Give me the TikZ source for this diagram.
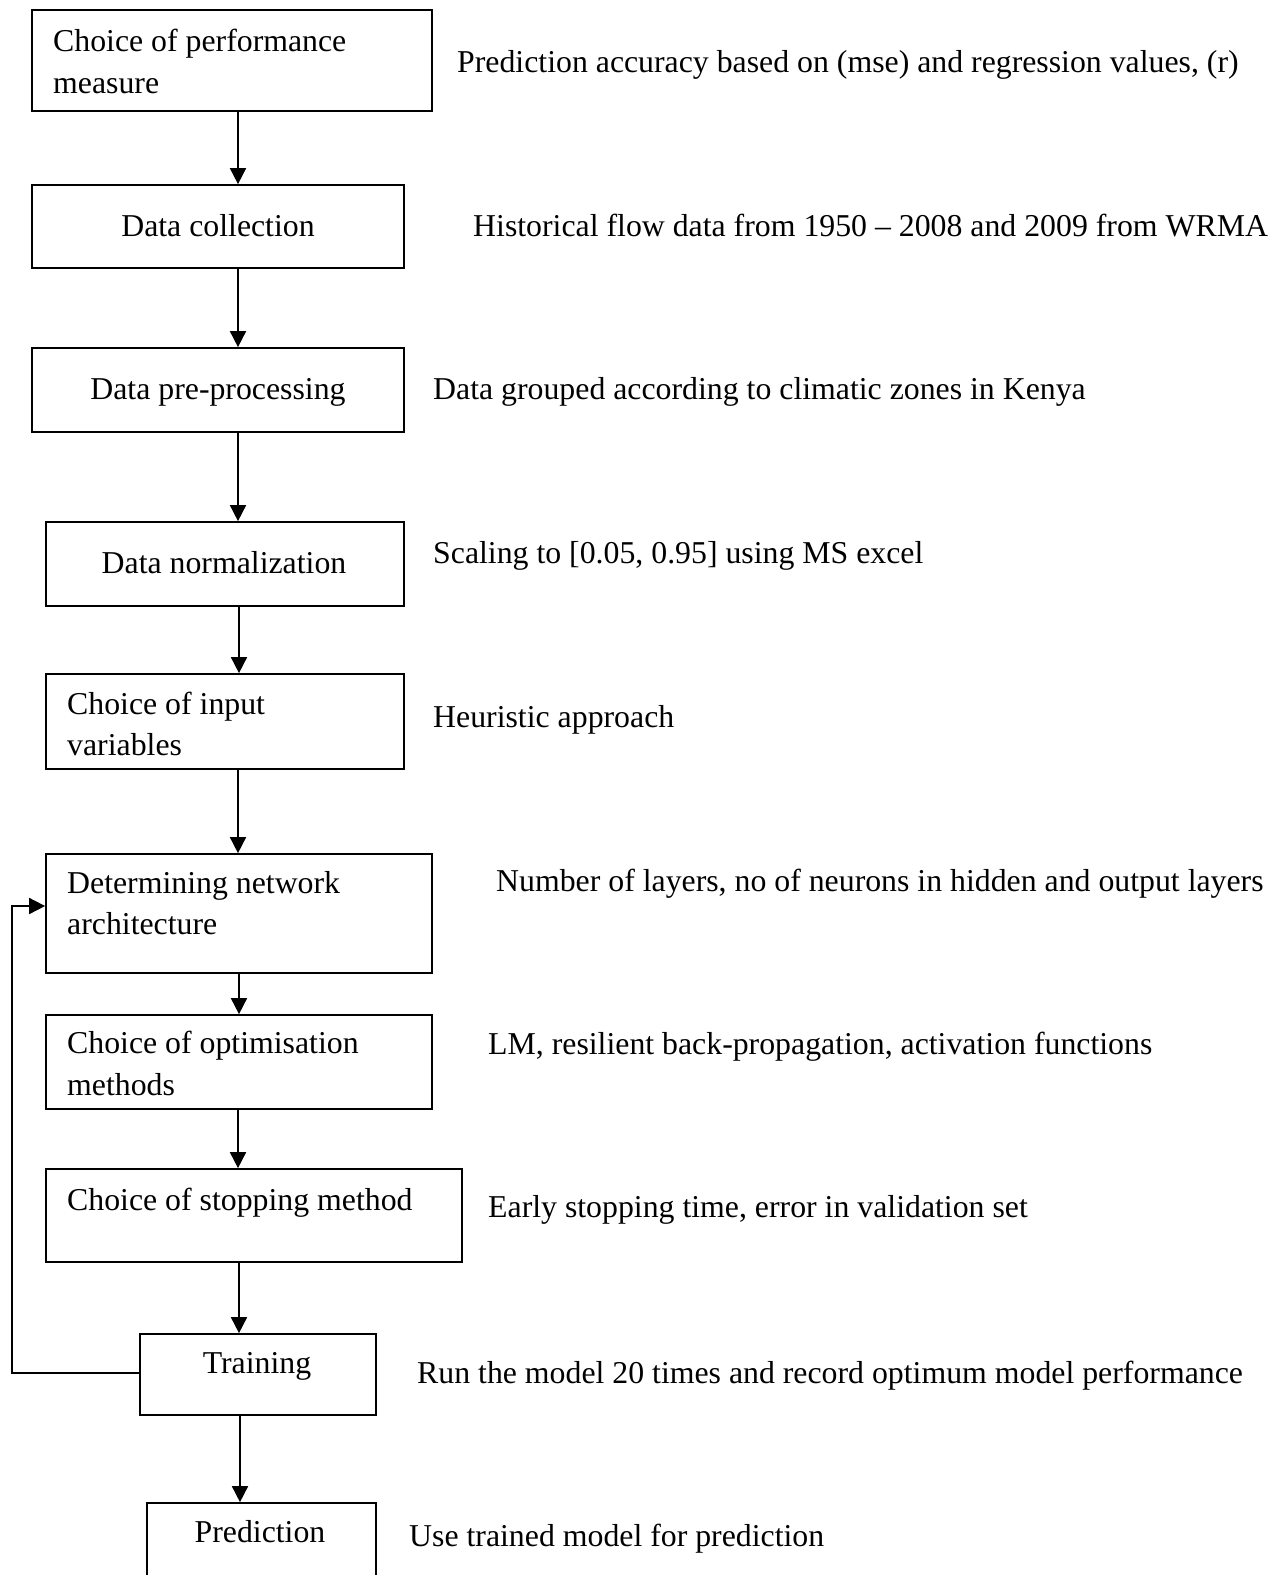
\documentclass[tikz,border=0pt]{standalone}
\usepackage{fontspec}
\setmainfont{Liberation Serif}
\usetikzlibrary{arrows.meta}
\begin{document}
\begin{tikzpicture}[x=1bp,y=-1bp,
  box/.style={draw=black, line width=1.7bp, rectangle, inner sep=0pt},
  txt/.style={inner sep=0pt, font=\fontsize{31.8bp}{42bp}\selectfont, anchor=base west},
  ctxt/.style={inner sep=0pt, font=\fontsize{31.8bp}{42bp}\selectfont, anchor=base},
  arr/.style={line width=1.7bp, -{Triangle[width=16bp,length=16bp]}}]
\clip (0,0) rectangle (1284,1575);
\fill[white] (0,0) rectangle (1284,1575);
% boxes (centre, width, height)
\node[box, minimum width=400bp, minimum height=101bp] (b1) at (232,60.5) {};
\node[box, minimum width=372bp, minimum height=83bp] (b2) at (218,226.5) {};
\node[box, minimum width=372bp, minimum height=84bp] (b3) at (218,390) {};
\node[box, minimum width=358bp, minimum height=84bp] (b4) at (225,564) {};
\node[box, minimum width=358bp, minimum height=95bp] (b5) at (225,721.5) {};
\node[box, minimum width=386bp, minimum height=119bp] (b6) at (239,913.5) {};
\node[box, minimum width=386bp, minimum height=94bp] (b7) at (239,1062) {};
\node[box, minimum width=416bp, minimum height=93bp] (b8) at (254,1215.5) {};
\node[box, minimum width=236bp, minimum height=81bp] (b9) at (258,1374.5) {};
\node[box, minimum width=229bp, minimum height=100bp] (b10) at (261.5,1553) {};
% box texts
\node[txt] (t1a) at (53,52) {Choice of performance};
\node[txt] (t1b) at (53,94) {measure};
\node[ctxt] (t2) at (218,236.5) {Data collection};
\node[ctxt] (t3) at (218,399.5) {Data pre-processing};
\node[ctxt] (t4) at (224,573) {Data normalization};
\node[txt] (t5a) at (67,714) {Choice of input};
\node[txt] (t5b) at (67,755) {variables};
\node[txt] (t6a) at (67,893) {Determining network};
\node[txt] (t6b) at (67,934) {architecture};
\node[txt] (t7a) at (67,1053) {Choice of optimisation};
\node[txt] (t7b) at (67,1095) {methods};
\node[txt] (t8) at (67,1210) {Choice of stopping method};
\node[ctxt] (t9) at (257,1373) {Training};
\node[ctxt] (t10) at (260,1542) {Prediction};
% side texts
\node[txt] (s1) at (457,73) {Prediction accuracy based on (mse) and regression values, (r)};
\node[txt] (s2) at (473,236.5) {Historical flow data from 1950 – 2008 and 2009 from WRMA};
\node[txt] (s3) at (433,399.5) {Data grouped according to climatic zones in Kenya};
\node[txt] (s4) at (433,563) {Scaling to [0.05, 0.95] using MS excel};
\node[txt] (s5) at (433,727) {Heuristic approach};
\node[txt] (s6) at (496,891) {Number of layers, no of neurons in hidden and output layers};
\node[txt] (s7) at (488,1054) {LM, resilient back-propagation, activation functions};
\node[txt] (s8) at (488,1217) {Early stopping time, error in validation set};
\node[txt] (s9) at (417,1383) {Run the model 20 times and record optimum model performance};
\node[txt] (s10) at (409,1546) {Use trained model for prediction};
% connectors
\draw[arr] (b1.south -| 238,0) -- (b2.north -| 238,0);
\draw[arr] (b2.south -| 238,0) -- (b3.north -| 238,0);
\draw[arr] (b3.south -| 238,0) -- (b4.north -| 238,0);
\draw[arr] (b4.south -| 239,0) -- (b5.north -| 239,0);
\draw[arr] (b5.south -| 238,0) -- (b6.north -| 238,0);
\draw[arr] (b6.south -| 239,0) -- (b7.north -| 239,0);
\draw[arr] (b7.south -| 238,0) -- (b8.north -| 238,0);
\draw[arr] (b8.south -| 239,0) -- (b9.north -| 239,0);
\draw[arr] (b9.south -| 240,0) -- (b10.north -| 240,0);
\coordinate (fb1) at (12,1373);
\coordinate (fb2) at (12,906);
\draw[arr] (b9.west |- fb1) -- (fb1) -- (fb2) -- (b6.west |- fb2);
\end{tikzpicture}
\end{document}
